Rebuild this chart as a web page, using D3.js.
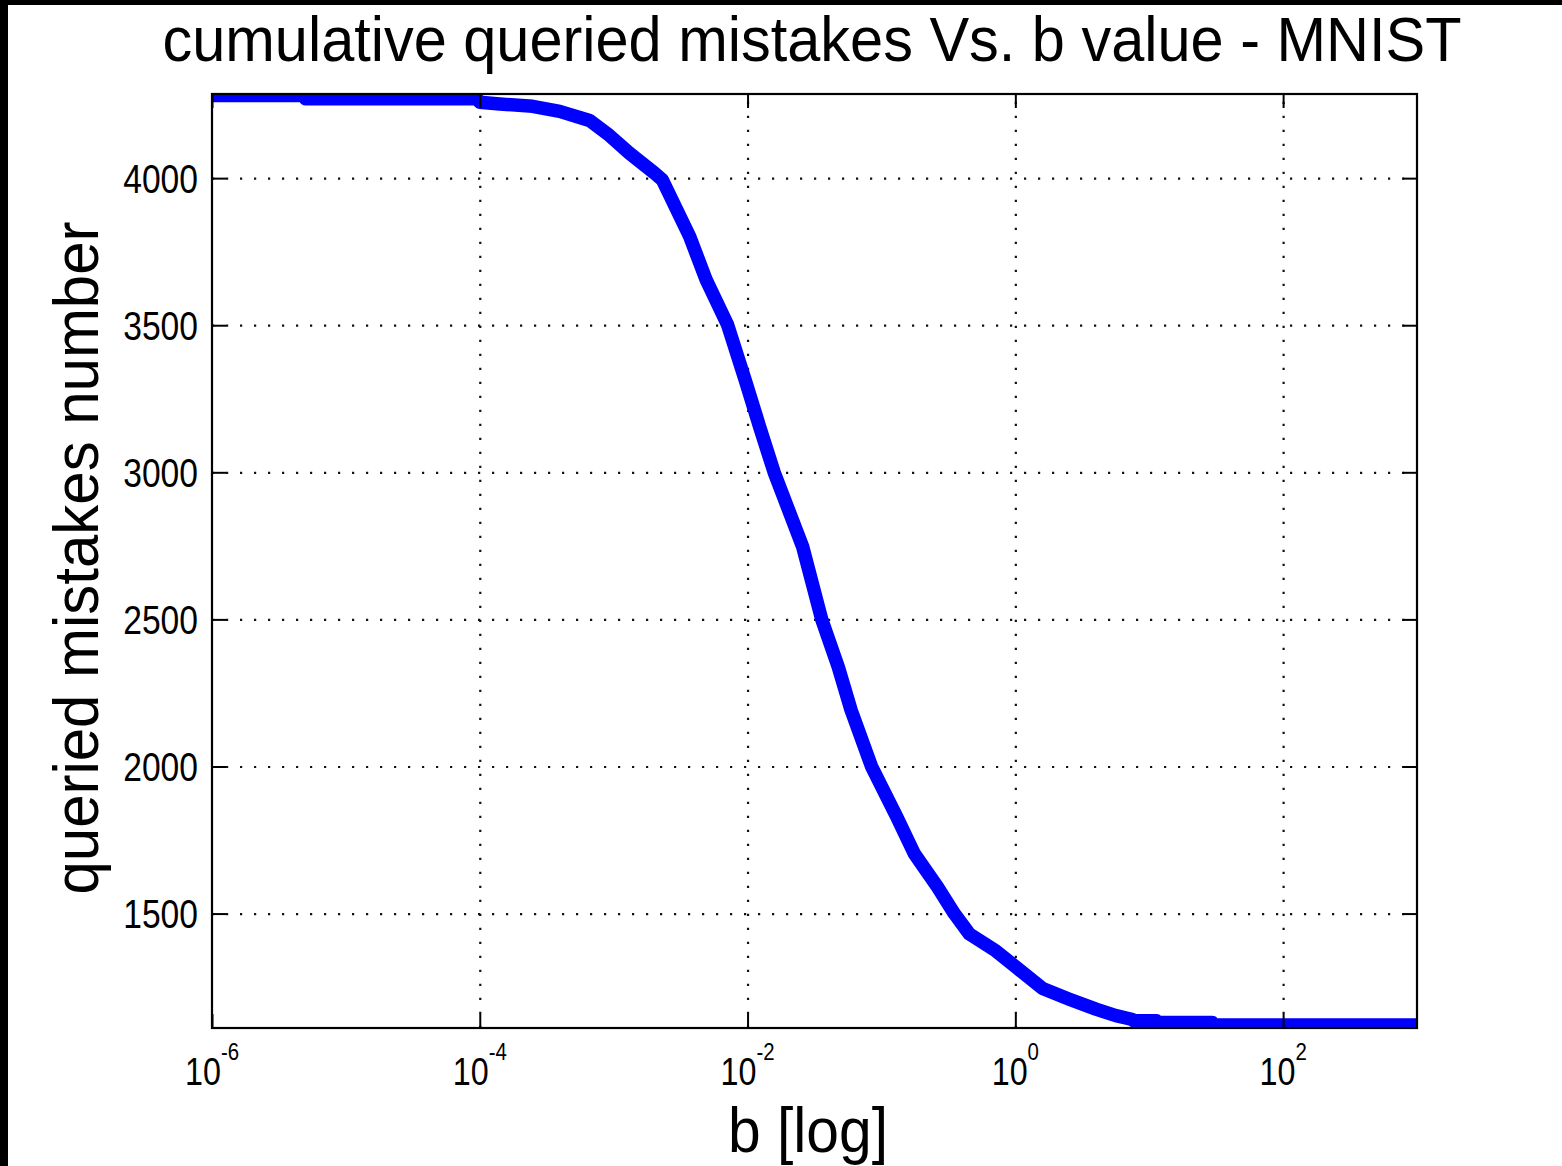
<!DOCTYPE html>
<html>
<head>
<meta charset="utf-8">
<script src="https://cdn.jsdelivr.net/npm/d3@7"></script>
<style>
  body { margin: 0; background: #000; }
  svg text { font-family: "Liberation Sans", Arial, Helvetica, sans-serif; fill: #000; }
</style>
</head>
<body>
<svg id="chart" width="1562" height="1166"></svg>
<script>
// b parameter values (log axis) and the cumulative queried mistakes at each
const bValues = [
  1e-6, 4.9e-6, 5.0e-6, 9.5e-5, 1.0e-4, 1.41e-4, 2.48e-4, 3.95e-4, 6.6e-4, 9.3e-4,
  1.31e-3, 2.02e-3, 2.31e-3, 3.7e-3, 4.9e-3, 7.1e-3, 9.6e-3, 1.23e-2, 1.58e-2, 2.58e-2,
  3.58e-2, 4.76e-2, 5.93e-2, 8.45e-2, 0.13, 0.176, 0.262, 0.35, 0.453, 0.716,
  1.01, 1.6, 2.53, 4.0, 5.64, 7.5, 7.6, 11.3, 11.5, 29.5, 30, 1000
];
const mistakes = [
  4281, 4281, 4270, 4270, 4258, 4252, 4244, 4227, 4196, 4145,
  4085, 4017, 3994, 3801, 3655, 3501, 3314, 3155, 3000, 2747,
  2500, 2338, 2192, 1999, 1829, 1704, 1591, 1500, 1431, 1373,
  1318, 1245, 1209, 1175, 1153, 1140, 1136, 1136, 1130, 1130, 1121, 1121
];
const xTickValues = [1e-6, 1e-4, 1e-2, 1, 1e2];
const yTickValues = [1500, 2000, 2500, 3000, 3500, 4000];
const titleText = "cumulative queried mistakes Vs. b value - MNIST";
const xLabelText = "b [log]";
const yLabelText = "queried mistakes number";

const W = 1562, H = 1166;
const plot = { left: 212, top: 94, right: 1417, bottom: 1028 };
const pw = plot.right - plot.left, ph = plot.bottom - plot.top;

const svg = d3.select("#chart");

// page: black edge on the left and top, white figure area
svg.append("rect").attr("width", W).attr("height", H).attr("fill", "#000");
svg.append("rect").attr("x", 8).attr("y", 5).attr("width", W - 8).attr("height", H - 5).attr("fill", "#fff");

const x = d3.scaleLog().domain([1e-6, 1e3]).range([plot.left, plot.right]);
const y = d3.scaleLinear().domain([1111, 4286]).range([plot.bottom, plot.top]);

// dotted grid
const gridX = svg.append("g")
  .attr("transform", `translate(0,${plot.bottom})`)
  .call(d3.axisBottom(x).tickValues(xTickValues.slice(1)).tickSize(-ph).tickFormat(""));
const gridY = svg.append("g")
  .attr("transform", `translate(${plot.left},0)`)
  .call(d3.axisLeft(y).tickValues(yTickValues).tickSize(-pw).tickFormat(""));
[gridX, gridY].forEach(g => {
  g.select(".domain").remove();
  g.selectAll(".tick line")
    .attr("stroke", "#111")
    .attr("stroke-width", 2.2)
    .attr("stroke-dasharray", "2.2,11.8");
});

// data line, clipped to the axes box
svg.append("clipPath").attr("id", "plotClip")
  .append("rect").attr("x", plot.left).attr("y", plot.top).attr("width", pw).attr("height", ph);

const points = bValues.map((b, i) => ({ b, m: mistakes[i] }));
const line = d3.line().x(d => x(d.b)).y(d => y(d.m));
svg.append("path")
  .datum(points)
  .attr("clip-path", "url(#plotClip)")
  .attr("d", line)
  .attr("fill", "none")
  .attr("stroke", "#0000ff")
  .attr("stroke-width", 13.5)
  .attr("stroke-linejoin", "round");

// inward tick marks on all four sides
const tickLen = 14;
const axes = [
  svg.append("g").attr("transform", `translate(0,${plot.bottom})`)
    .call(d3.axisBottom(x).tickValues(xTickValues).tickSizeInner(-tickLen).tickSizeOuter(0).tickFormat("")),
  svg.append("g").attr("transform", `translate(0,${plot.top})`)
    .call(d3.axisTop(x).tickValues(xTickValues).tickSizeInner(-tickLen).tickSizeOuter(0).tickFormat("")),
  svg.append("g").attr("transform", `translate(${plot.left},0)`)
    .call(d3.axisLeft(y).tickValues(yTickValues).tickSizeInner(-tickLen).tickSizeOuter(0).tickFormat("")),
  svg.append("g").attr("transform", `translate(${plot.right},0)`)
    .call(d3.axisRight(y).tickValues(yTickValues).tickSizeInner(-tickLen).tickSizeOuter(0).tickFormat(""))
];
axes.forEach(g => {
  g.select(".domain").remove();
  g.selectAll(".tick line").attr("stroke", "#000").attr("stroke-width", 2);
});

// axes box
svg.append("rect")
  .attr("x", plot.left).attr("y", plot.top).attr("width", pw).attr("height", ph)
  .attr("fill", "none").attr("stroke", "#000").attr("stroke-width", 2.2);

// y tick labels
svg.append("g").selectAll("text").data(yTickValues).join("text")
  .attr("transform", d => `translate(198,${y(d)}) scale(0.82,1)`)
  .attr("text-anchor", "end")
  .attr("dy", "0.36em")
  .attr("font-size", 41)
  .text(d => d);

// x tick labels as powers of ten
const xl = svg.append("g").selectAll("text").data(xTickValues).join("text")
  .attr("transform", d => `translate(${x(d)},1085) scale(0.85,1)`)
  .attr("text-anchor", "middle");
xl.append("tspan").attr("font-size", 38).text("10");
xl.append("tspan").attr("font-size", 24).attr("dy", -25)
  .text(d => String(Math.round(Math.log10(d))));

// title and axis labels
svg.append("text")
  .attr("x", 812).attr("y", 61)
  .attr("text-anchor", "middle")
  .attr("font-size", 63)
  .attr("textLength", 1299).attr("lengthAdjust", "spacingAndGlyphs")
  .text(titleText);

svg.append("text")
  .attr("x", 808).attr("y", 1152)
  .attr("text-anchor", "middle")
  .attr("font-size", 63)
  .attr("textLength", 160).attr("lengthAdjust", "spacingAndGlyphs")
  .text(xLabelText);

svg.append("text")
  .attr("transform", "translate(98,558) rotate(-90)")
  .attr("text-anchor", "middle")
  .attr("font-size", 63)
  .attr("textLength", 673).attr("lengthAdjust", "spacingAndGlyphs")
  .text(yLabelText);
</script>
</body>
</html>
